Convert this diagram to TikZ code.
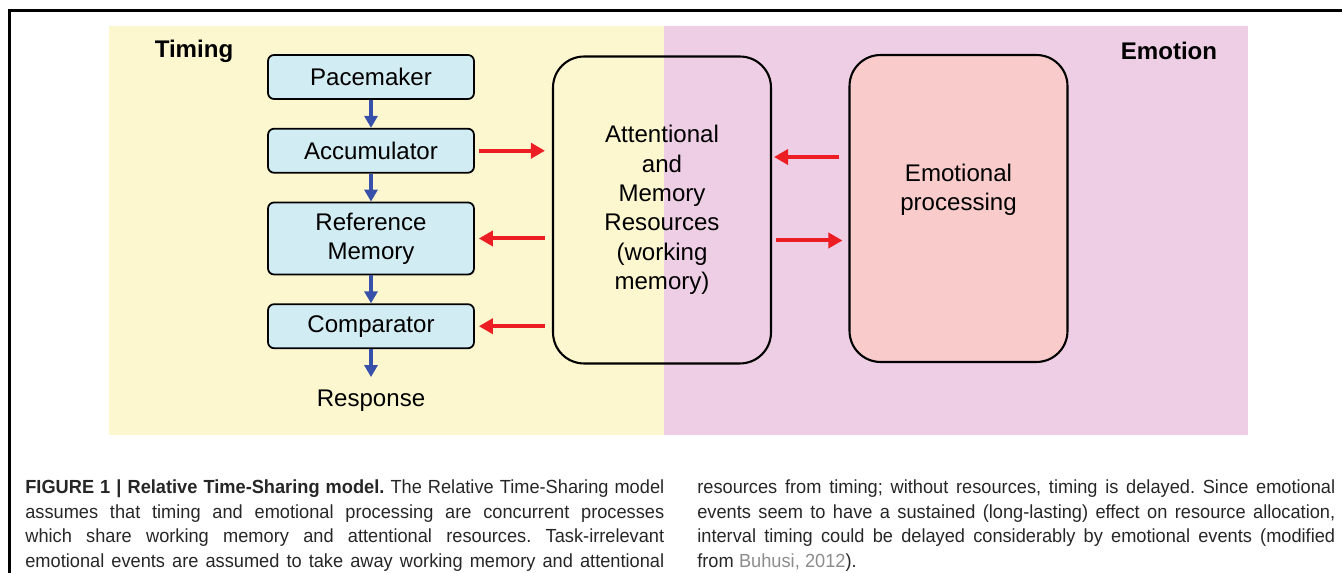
\documentclass[tikz,border=0pt]{standalone}
\usepackage{fontspec}
\setmainfont{Liberation Sans}
\newfontfamily\capfont[FakeStretch=0.96]{Liberation Sans}
\definecolor{timeyellow}{RGB}{252, 247, 207}
\definecolor{emopink}{RGB}{238, 206, 228}
\definecolor{boxblue}{RGB}{210, 236, 243}
\definecolor{emored}{RGB}{249, 203, 203}
\definecolor{arrred}{RGB}{236, 30, 36}
\definecolor{arrblue}{RGB}{55, 80, 170}
\definecolor{linkgray}{RGB}{140, 140, 140}
\usetikzlibrary{arrows.meta, positioning, calc}
\tikzset{
  clocknode/.style={rounded corners=0.12cm, draw, line width=1pt, fill=boxblue, minimum width=4.12cm, minimum height=0.88cm, font=\fontsize{13.7}{16.7}\selectfont, align=center, inner sep=2pt},
  bignode/.style={rounded corners=0.62cm, draw, line width=1.2pt, minimum width=4.36cm, minimum height=6.14cm, font=\fontsize{13.7}{16.7}\selectfont, align=center},
  sidelabel/.style={font=\fontsize{13.7}{16.7}\selectfont\bfseries},
  captext/.style={anchor=north west, inner sep=0pt, align=justify, font=\capfont\fontsize{10.8}{14.2}\selectfont, text=black!85},
  redarrow/.style={-{Triangle[length=0.28cm, width=0.3cm]}, line width=0.08cm, arrred},
  bluearrow/.style={-{Triangle[length=0.24cm, width=0.26cm]}, line width=0.08cm, arrblue},
}

\begin{document}
\begin{tikzpicture}[x=0.02cm, y=-0.02cm, node distance=0.56cm]
  \useasboundingbox (0,0) rectangle (1342,573);
  \fill[timeyellow] (109,26) rectangle (664,435);
  \fill[emopink] (664,26) rectangle (1248,435);
  \draw[line width=0.06cm] (9.5,573) -- (9.5,10.5) -- (1342,10.5);

  \node[sidelabel] (timing) at (194,51) {Timing};
  \node[sidelabel] (emotion) at (1169,51) {Emotion};

  % clock side
  \node[clocknode] (pace) at (371,77) {Pacemaker};
  \node[clocknode, below=of pace] (acc) {Accumulator};
  \node[clocknode, below=of acc, minimum height=1.44cm] (ref) {Reference\\Memory};
  \node[clocknode, below=of ref] (comp) {Comparator};
  \node[font=\fontsize{13.7}{16.7}\selectfont, below=0.7cm of comp] (resp) {Response};
  \foreach \i/\j in {pace/acc,acc/ref,ref/comp} \draw[bluearrow] (\i)--(\j);
  \draw[bluearrow, shorten >=0.14cm] (comp)--(resp);

  % shared resources and emotion
  \node[bignode] (att) at (662,210) {Attentional\\and\\Memory\\Resources\\(working\\memory)};
  \node[bignode, fill=emored] (emo) at (958.5,208.5) {};
  \node[font=\fontsize{13.7}{16.7}\selectfont, align=center] (emotext) at ([yshift=0.37cm]emo.center) {Emotional\\processing};

  \draw[redarrow, shorten <=0.08cm, shorten >=0.14cm] (acc.east) -- (acc.east -| att.west);
  \foreach \k in {ref,comp}
    \draw[redarrow, shorten <=0.14cm, shorten >=0.08cm] (att.west |- \k.east) -- (\k.east);
  \draw[redarrow, shorten <=0.18cm, shorten >=0.04cm] ([yshift=1.03cm]emo.west) -- ([yshift=1.03cm]emo.west -| att.east);
  \draw[redarrow, shorten <=0.08cm, shorten >=0.12cm] ([yshift=-0.61cm]att.east) -- ([yshift=-0.61cm]att.east -| emo.west);

  % caption
  \node[captext, text width=12.78cm] (capleft) at (25,479) {\frenchspacing\hyphenpenalty=10000\spaceskip=0.278em plus 0.4em minus 0.08em
    {\bfseries FIGURE 1 | Relative Time-Sharing model.} The Relative Time-Sharing model\linebreak
    assumes that timing and emotional processing are concurrent processes\linebreak
    which share working memory and attentional resources. Task-irrelevant\linebreak
    emotional events are assumed to take away working memory and attentional{\parfillskip=0pt\par}};
  \node[captext, text width=12.76cm] (capright) at (697,479) {\frenchspacing\hyphenpenalty=10000\spaceskip=0.278em plus 0.4em minus 0.08em
    resources from timing; without resources, timing is delayed. Since emotional\linebreak
    events seem to have a sustained (long-lasting) effect on resource allocation,\linebreak
    interval timing could be delayed considerably by emotional events (modified\linebreak
    from {\color{linkgray}Buhusi, 2012}).};
\end{tikzpicture}
\end{document}
